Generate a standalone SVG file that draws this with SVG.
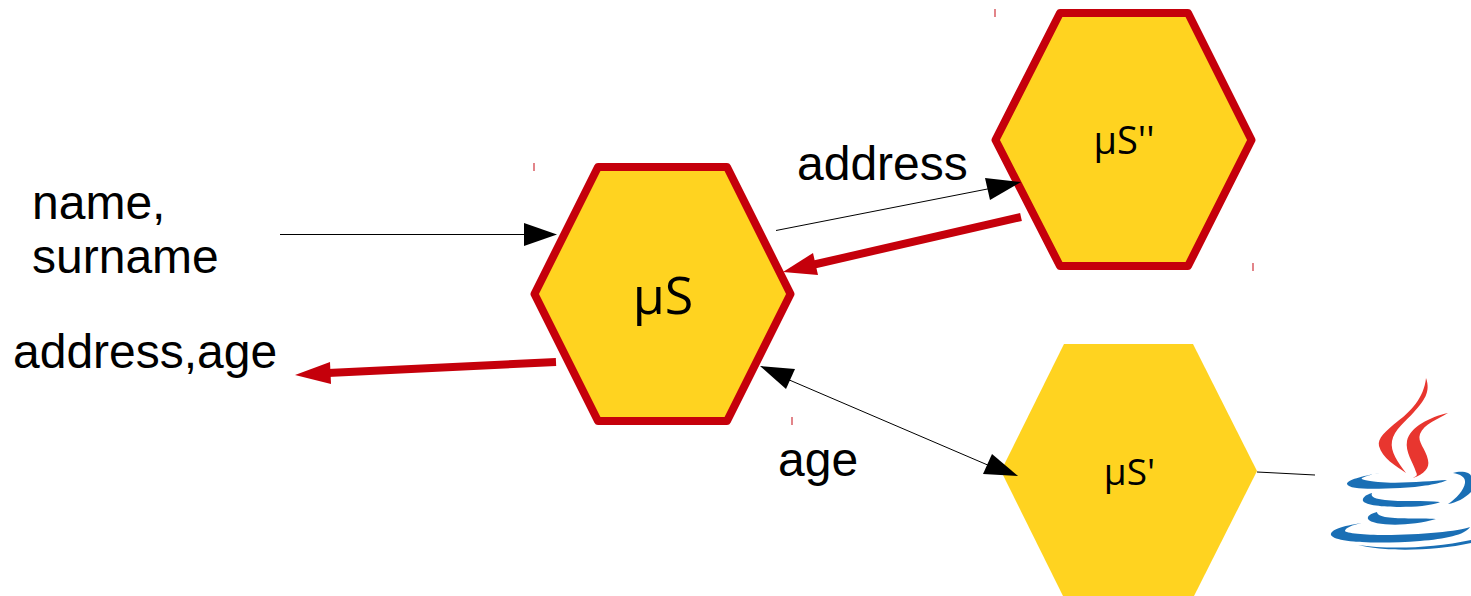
<svg xmlns="http://www.w3.org/2000/svg" width="1471" height="596" viewBox="0 0 1471 596">
<style>
.hex{fill:#ffd320}
.st{stroke:#c5000b;stroke-width:8;stroke-linejoin:round}
.lbl{font-family:"Liberation Sans",Arial,sans-serif;font-size:48px;fill:#000}
.mu{font-family:"Open Sans","Noto Sans",sans-serif;fill:#000;text-anchor:middle}
.thin{stroke:#000;stroke-width:1;fill:none}
.thick{stroke:#c5000b;stroke-width:8;fill:none}
.tick{stroke:#c5000b;stroke-width:1.2;opacity:.8}
.red{fill:#e8362f}
.blue{fill:#1a6fb5}
</style>
<rect width="1471" height="596" fill="#fff"/>
<g id="node-s"><polygon class="hex st" points="534.5,294 598,167 727,167 790.5,294 727,421 598,421"/><text class="mu" x="663" y="314" font-size="52">µS</text></g>
<g id="node-s2"><polygon class="hex st" points="995.5,140 1060,13 1188,13 1251.5,140 1188,266 1060,266"/><text class="mu" x="1124" y="154" font-size="38">µS''</text></g>
<g id="node-s1"><polygon class="hex" points="1001,471 1064,344 1193,344 1257,471 1193,598 1064,598"/><text class="mu" x="1129.5" y="485" font-size="37">µS'</text></g>
<g id="connectors">
<line class="thin" x1="280" y1="234.5" x2="526" y2="234.5"/>
<polygon points="557,234.5 524,223 524,246"/>
<line class="thin" x1="776" y1="230.5" x2="990" y2="188.5"/>
<polygon points="1021,182 985,178 990,200"/>
<line class="thick" x1="1021" y1="217" x2="812" y2="265"/>
<polygon fill="#c5000b" points="783,272 813,253 818,275"/>
<line class="thick" x1="556" y1="362" x2="328" y2="373"/>
<polygon fill="#c5000b" points="295,375 330,362 331,384"/>
<line class="thin" x1="787" y1="379" x2="990" y2="466"/>
<polygon points="760,366 795,369 786,389"/>
<polygon points="1018,476 983,474 992,454"/>
<line class="thin" x1="1257" y1="472" x2="1315" y2="475"/>
</g>
<g id="labels">
<text class="lbl" x="32" y="219">name,</text>
<text class="lbl" x="32" y="273">surname</text>
<text class="lbl" x="13" y="368">address,age</text>
<text class="lbl" x="797" y="180">address</text>
<text class="lbl" x="778" y="476">age</text>
</g>
<g id="ticks">
<line class="tick" x1="534" y1="163" x2="534" y2="171"/>
<line class="tick" x1="792" y1="417" x2="792" y2="425"/>
<line class="tick" x1="995" y1="9" x2="995" y2="17"/>
<line class="tick" x1="1253" y1="263" x2="1253" y2="271"/>
</g>
<g id="java-logo">
<path class="red" d="M1426,378C1424,398 1410,412 1398,421C1386,431 1377,438 1379,446C1382,458 1396,466 1406,473C1398,462 1390,452 1392,441C1394,430 1406,421 1414,412C1424,401 1431,392 1426,378Z"/>
<path class="red" d="M1448,413C1430,417 1410,427 1407,441C1405,452 1413,462 1416,472C1418,476 1416,476 1413,478C1424,474 1430,468 1428,460C1426,449 1417,442 1420,434C1424,424 1438,419 1448,413Z"/>
<path class="blue" d="M1380,473C1362,476 1347,480 1347,484C1349,490 1375,489 1400,488C1420,487 1440,484 1447,480C1430,481 1400,484 1378,482C1366,481 1360,479 1362,478C1366,476 1372,474 1380,473Z"/>
<path class="blue" d="M1453,473C1462,470 1471,473 1471,476L1471,492C1465,498 1456,503 1448,504C1456,499 1464,490 1465,483C1466,477 1460,474 1453,473Z"/>
<path class="blue" d="M1372,493C1365,495 1362,498 1363,501C1367,507 1400,508 1422,506C1431,505 1438,503 1440,502C1425,500 1400,502 1385,500C1376,499 1370,497 1372,493Z"/>
<path class="blue" d="M1377,512C1370,514 1367,516 1368,519C1372,526 1410,527 1436,519C1420,518 1395,519 1385,517C1380,516 1377,514 1377,512Z"/>
<path class="blue" d="M1362,523C1342,526 1330,530 1331,535C1335,543 1380,544 1420,541C1445,539 1465,535 1470,527C1460,531 1420,535 1385,535C1365,535 1345,533 1345,531C1345,528 1352,525 1362,523Z"/>
<path class="blue" d="M1358,545C1385,549 1430,549 1471,540L1471,543C1435,551 1385,552 1358,545Z"/>
</g>
</svg>
